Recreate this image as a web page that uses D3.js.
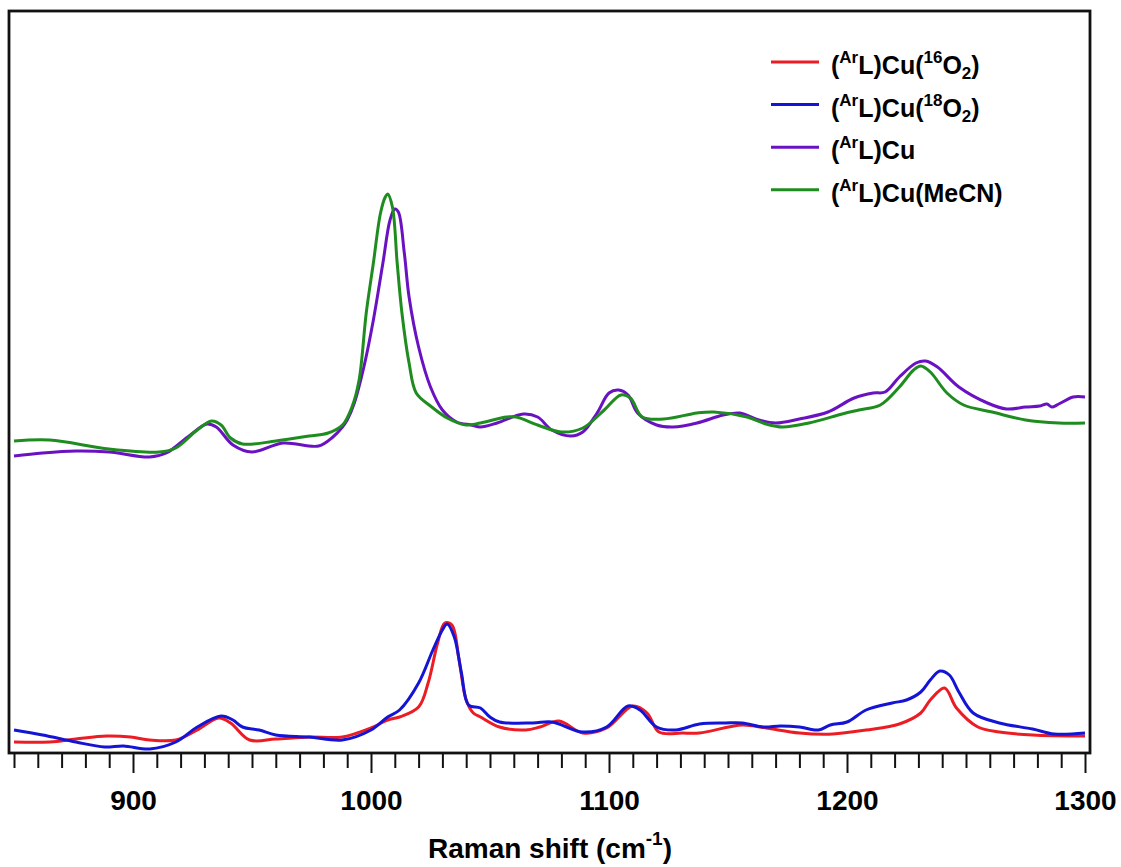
<!DOCTYPE html>
<html><head><meta charset="utf-8">
<script src="https://cdn.jsdelivr.net/npm/d3@7"></script>
<style>
body{margin:0;background:#fff;}
svg{display:block;}
text{font-family:Arial,"Liberation Sans",sans-serif;font-weight:bold;fill:#000;}
</style>
</head><body>
<svg id="chart" width="1121" height="867"></svg>
<script>
// ---- data (Raman shift in cm^-1, intensity in arbitrary units) ----
const xTickValues = [900, 1000, 1100, 1200, 1300];
const xMinorStep = 10;
const seriesLabels = ["16O2", "18O2", "Cu", "MeCN"];
const seriesColors = ["#ec1c24", "#1414d6", "#6a12c2", "#1f8c1f"];

const cu16O2 = [[850,11],[865,11],[876,14],[889,17],[899,16],[907,13],[918,13],[927,23],[936,35],[941,30],[949,13],[960,14],[974,16],[988,16],[1000,25],[1007,33],[1012,36],[1020,46],[1024,70],[1028,110],[1031,130],[1034,128],[1037,93],[1040,53],[1043,40],[1046,36],[1054,26],[1065,23],[1071,26],[1079,32],[1089,20],[1099,25],[1110,47],[1116,40],[1121,21],[1131,20],[1138,20],[1156,28],[1166,25],[1180,20],[1194,19],[1208,23],[1222,29],[1231,40],[1235,53],[1241,65],[1246,45],[1255,26],[1264,21],[1278,18],[1300,17]];

const cu18O2 = [[850,23],[862,18],[876,11],[888,6],[896,7],[907,4],[918,11],[927,26],[937,37],[942,33],[946,26],[953,23],[960,18],[974,16],[988,13],[1000,23],[1007,36],[1012,43],[1020,70],[1026,103],[1030,123],[1032,129],[1035,116],[1038,80],[1041,48],[1046,45],[1050,36],[1054,31],[1068,30],[1076,31],[1089,21],[1099,26],[1108,47],[1113,43],[1120,26],[1128,23],[1138,29],[1149,30],[1156,30],[1165,26],[1172,27],[1180,26],[1188,23],[1193,28],[1200,31],[1208,43],[1219,50],[1225,53],[1231,61],[1235,73],[1239,82],[1243,78],[1247,61],[1253,40],[1264,30],[1278,24],[1287,19],[1300,20]];

const cuBare = [[850,297],[862,300],[876,302],[890,301],[907,296],[914,300],[923,316],[931,329],[935,326],[942,308],[950,301],[963,310],[978,307],[984,316],[988,326],[990,333],[993,350],[997,386],[1001,433],[1005,490],[1008,533],[1010,544],[1011.5,541],[1014,500],[1016,456],[1020,406],[1025,366],[1030,343],[1036,331],[1042,328],[1046,326],[1053,330],[1064,339],[1070,336],[1076,323],[1084,317],[1089,321],[1095,340],[1100,360],[1104,363],[1108,358],[1112,340],[1120,328],[1127,326],[1137,330],[1148,338],[1155,340],[1163,333],[1170,330],[1180,334],[1192,341],[1203,355],[1211,360],[1216,361],[1222,376],[1229,390],[1233,392],[1238,386],[1247,366],[1259,350],[1267,344],[1275,346],[1281,347],[1284,349],[1286,346],[1289,349],[1295,356],[1300,356]];

const cuMeCN = [[850,312],[865,313],[890,304],[911,301],[918,305],[927,323],[933,332],[937,328],[941,315],[946,309],[960,312],[974,317],[982,320],[988,328],[992,346],[995,373],[998,440],[1001,490],[1004,540],[1006,556],[1007,559],[1009,546],[1011,490],[1013,440],[1016,390],[1019,360],[1025,347],[1032,335],[1040,328],[1046,330],[1057,336],[1061,336],[1070,328],[1080,321],[1089,325],[1098,343],[1105,358],[1109,355],[1114,336],[1123,334],[1137,340],[1144,341],[1158,336],[1166,329],[1173,326],[1184,330],[1198,339],[1205,343],[1214,348],[1222,366],[1228,383],[1231,387],[1235,381],[1242,360],[1249,348],[1261,341],[1275,333],[1289,330],[1300,330]];

const seriesData = [cu16O2, cu18O2, cuBare, cuMeCN];

// ---- layout ----
const svg = d3.select("#chart");
const frame = {left: 9, top: 11, right: 1090, bottom: 753};
const x = d3.scaleLinear().domain([850, 1300]).range([14, 1085]);
const y = d3.scaleLinear().domain([0, 742]).range([frame.bottom, frame.top]);

// lines
const line = d3.line().x(d => x(d[0])).y(d => y(d[1])).curve(d3.curveCatmullRom.alpha(0.5));
seriesData.forEach((s, i) => {
  svg.append("path").datum(s)
    .attr("d", line)
    .attr("fill", "none")
    .attr("stroke", seriesColors[i])
    .attr("stroke-width", 3)
    .attr("stroke-linejoin", "round");
});

// frame
svg.append("rect")
  .attr("x", frame.left).attr("y", frame.top)
  .attr("width", frame.right - frame.left).attr("height", frame.bottom - frame.top)
  .attr("fill", "none").attr("stroke", "#111").attr("stroke-width", 2.8);

// minor ticks
const minorVals = d3.range(850, 1300 + 1, xMinorStep).filter(v => !xTickValues.includes(v));
const gMinor = svg.append("g").attr("transform", `translate(0,${frame.bottom})`)
  .call(d3.axisBottom(x).tickValues(minorVals).tickSize(15).tickSizeOuter(0).tickFormat(""));
gMinor.select(".domain").remove();
gMinor.selectAll(".tick line").attr("stroke", "#111").attr("stroke-width", 2);

// major ticks
const gMajor = svg.append("g").attr("transform", `translate(0,${frame.bottom})`)
  .call(d3.axisBottom(x).tickValues(xTickValues).tickSize(20).tickSizeOuter(0).tickFormat(d3.format("d")));
gMajor.select(".domain").remove();
gMajor.selectAll(".tick line").attr("stroke", "#111").attr("stroke-width", 2);
gMajor.selectAll(".tick text")
  .attr("y", 57).attr("dy", 0)
  .style("font-size", "28px").style("font-family", "Arial, 'Liberation Sans', sans-serif")
  .style("font-weight", "bold").attr("fill", "#000");

// x-axis title
const title = svg.append("text").attr("x", 550).attr("y", 858)
  .attr("text-anchor", "middle").style("font-size", "28px");
title.append("tspan").text("Raman shift (cm");
title.append("tspan").text("-1").attr("dy", -13).style("font-size", "19px");
title.append("tspan").text(")").attr("dy", 13);

// legend
const legendTop = 62, legendStep = 42.6;
seriesLabels.forEach((lab, i) => {
  const ly = legendTop + i * legendStep;
  svg.append("line").attr("x1", 771).attr("x2", 819).attr("y1", ly).attr("y2", ly)
    .attr("stroke", seriesColors[i]).attr("stroke-width", 3);
  const t = svg.append("text").attr("x", 831).attr("y", ly + 12).style("font-size", "25px");
  t.append("tspan").text("(");
  t.append("tspan").text("Ar").attr("dy", -11).style("font-size", "17px");
  if (lab === "16O2" || lab === "18O2") {
    t.append("tspan").text("L)Cu(").attr("dy", 11);
    t.append("tspan").text(lab.slice(0, 2)).attr("dy", -11).style("font-size", "17px");
    t.append("tspan").text("O").attr("dy", 11);
    t.append("tspan").text("2").attr("dy", 5).style("font-size", "17px");
    t.append("tspan").text(")").attr("dy", -5);
  } else if (lab === "Cu") {
    t.append("tspan").text("L)Cu").attr("dy", 11);
  } else {
    t.append("tspan").text("L)Cu(MeCN)").attr("dy", 11);
  }
});
</script>
</body></html>
